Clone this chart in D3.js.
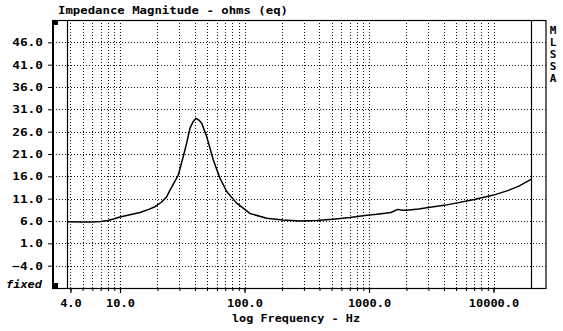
<!DOCTYPE html>
<html>
<head>
<meta charset="utf-8">
<script src="https://cdn.jsdelivr.net/npm/d3@7"></script>
<style>
  html, body { margin: 0; padding: 0; background: #fff; }
  svg { display: block; }
  text { font-family: "DejaVu Sans Mono", "Liberation Mono", monospace; font-weight: bold; fill: #000; }
</style>
</head>
<body>
<svg id="chart" width="563" height="331"></svg>
<script>
// ---- data ----
const freqs = [3.77, 5, 6, 7, 8, 9, 10, 12, 14.5, 17, 19.1, 21.5, 23.7, 25.2, 27.5, 29.4, 32.2, 34.3, 36.5, 38.8, 40.8, 43, 45.3, 49.7, 56.1, 63.5, 71.9, 86.5, 110.6, 150.6, 203.7, 279, 380, 514, 704, 960, 1150, 1304, 1500, 1700, 1850, 2000, 2500, 3000, 4000, 5000, 7000, 10000, 13000, 16000, 20000];
const impedance = [5.85, 5.8, 5.8, 5.9, 6.1, 6.5, 6.9, 7.4, 7.9, 8.6, 9.2, 10.2, 11.4, 12.9, 14.8, 16.3, 20.4, 23.4, 26.8, 28.3, 29.0, 28.6, 27.9, 24.9, 19.7, 15.6, 12.6, 10.0, 7.7, 6.6, 6.2, 6.0, 6.1, 6.4, 6.8, 7.3, 7.5, 7.7, 7.9, 8.6, 8.4, 8.4, 8.7, 9.0, 9.5, 10.0, 10.8, 11.8, 12.8, 13.8, 15.3];
const yTicks = [46, 41, 36, 31, 26, 21, 16, 11, 6, 1, -4];
const xMajorTicks = [4, 10, 100, 1000, 10000];
const xGrid = [4, 5, 6, 7, 8, 9, 10, 20, 30, 40, 50, 60, 70, 80, 90, 100, 200, 300, 400, 500, 600, 700, 800, 900, 1000, 2000, 3000, 4000, 5000, 6000, 7000, 8000, 9000, 10000];
const title = "Impedance Magnitude - ohms (eq)";
const xTitle = "log Frequency - Hz";
const sideLetters = ["M", "L", "S", "S", "A"];
const fixedLabel = "fixed";

// ---- layout ----
const svg = d3.select("#chart");
const pL = 53, pR = 546, pT = 20, pB = 288;
const x = d3.scaleLog().domain([10, 10000]).range([120, 493.5]);
const y = d3.scaleLinear().domain([-9, 51]).range([pB, pT]);

// gridlines
const g = svg.append("g");
g.selectAll("line.hg").data(yTicks).join("line")
  .attr("x1", pL).attr("x2", pR)
  .attr("y1", d => Math.round(y(d)) + 0.5).attr("y2", d => Math.round(y(d)) + 0.5)
  .attr("stroke", "#111").attr("stroke-width", 1).attr("stroke-dasharray", "1,2");
g.selectAll("line.vg").data(xGrid).join("line")
  .attr("x1", d => Math.round(x(d)) + 0.5).attr("x2", d => Math.round(x(d)) + 0.5)
  .attr("y1", pT).attr("y2", pB)
  .attr("stroke", "#111").attr("stroke-width", 1).attr("stroke-dasharray", "1,2");

// data range boundaries
const fStart = freqs[0], fEnd = freqs[freqs.length - 1];
[fStart, fEnd].forEach(f => {
  svg.append("line")
    .attr("x1", Math.round(x(f)) + 0.5).attr("x2", Math.round(x(f)) + 0.5)
    .attr("y1", pT).attr("y2", pB)
    .attr("stroke", "#000").attr("stroke-width", 1.2);
});

// frame
svg.append("rect").attr("x", pL).attr("y", pT + 0.5).attr("width", pR - pL).attr("height", pB - pT)
  .attr("fill", "none").attr("stroke", "#000").attr("stroke-width", 1.2);
svg.append("line").attr("x1", pL).attr("x2", pL).attr("y1", pT).attr("y2", pB + 1)
  .attr("stroke", "#000").attr("stroke-width", 2);
svg.append("rect").attr("x", pL).attr("y", pT).attr("width", 5).attr("height", 5).attr("fill", "#000");
svg.append("rect").attr("x", pL).attr("y", pB - 5).attr("width", 5).attr("height", 5).attr("fill", "#000");

// y axis
const yAxis = d3.axisLeft(y).tickValues(yTicks).tickSize(5).tickPadding(4).tickFormat(d3.format(".1f"));
const ya = svg.append("g").attr("transform", `translate(${pL},0)`).call(yAxis);
ya.select(".domain").remove();
ya.selectAll(".tick line").attr("stroke", "#000");
ya.selectAll(".tick text")
  .style("font-size", "11px").style("font-family", "DejaVu Sans Mono, monospace").style("font-weight", "bold")
  .attr("x", -10)
  .each(function(d) {
    const s = d3.format(".1f")(d);
    d3.select(this).attr("textLength", s.length * 7.7).attr("lengthAdjust", "spacingAndGlyphs");
  });

// x axis (minor ticks)
const xAxisMinor = d3.axisBottom(x).tickValues(xGrid).tickSize(3).tickFormat("");
const xa = svg.append("g").attr("transform", `translate(0,${pB})`).call(xAxisMinor);
xa.select(".domain").remove();
xa.selectAll(".tick line").attr("stroke", "#000");
const xAxisMajor = d3.axisBottom(x).tickValues(xMajorTicks).tickSize(5).tickPadding(6).tickFormat(d3.format(".1f"));
const xb = svg.append("g").attr("transform", `translate(0,${pB})`).call(xAxisMajor);
xb.select(".domain").remove();
xb.selectAll(".tick line").attr("stroke", "#000").attr("stroke-width", 1.2);
xb.selectAll(".tick text")
  .style("font-size", "11px").style("font-family", "DejaVu Sans Mono, monospace").style("font-weight", "bold")
  .each(function(d) {
    const s = d3.format(".1f")(d);
    d3.select(this).attr("textLength", s.length * 7.2).attr("lengthAdjust", "spacingAndGlyphs");
  });

// curve
const line = d3.line().x((d, i) => x(freqs[i])).y(d => y(d));
svg.append("path").datum(impedance)
  .attr("d", line)
  .attr("fill", "none").attr("stroke", "#000").attr("stroke-width", 1.5).attr("stroke-linejoin", "round");

// texts
svg.append("text").attr("x", 58).attr("y", 14).style("font-size", "11px")
  .attr("textLength", 230).attr("lengthAdjust", "spacingAndGlyphs").text(title);
svg.append("text").attr("x", 232).attr("y", 322).style("font-size", "11px")
  .attr("textLength", 128).attr("lengthAdjust", "spacingAndGlyphs").text(xTitle);
svg.append("text").attr("x", 6).attr("y", 288).style("font-size", "11px").style("font-style", "italic")
  .attr("textLength", 36).attr("lengthAdjust", "spacingAndGlyphs").text(fixedLabel);
svg.selectAll("text.side").data(sideLetters).join("text")
  .attr("class", "side")
  .attr("x", 553).attr("y", (d, i) => 34 + i * 12)
  .attr("text-anchor", "middle").style("font-size", "11px")
  .text(d => d);
</script>
</body>
</html>
